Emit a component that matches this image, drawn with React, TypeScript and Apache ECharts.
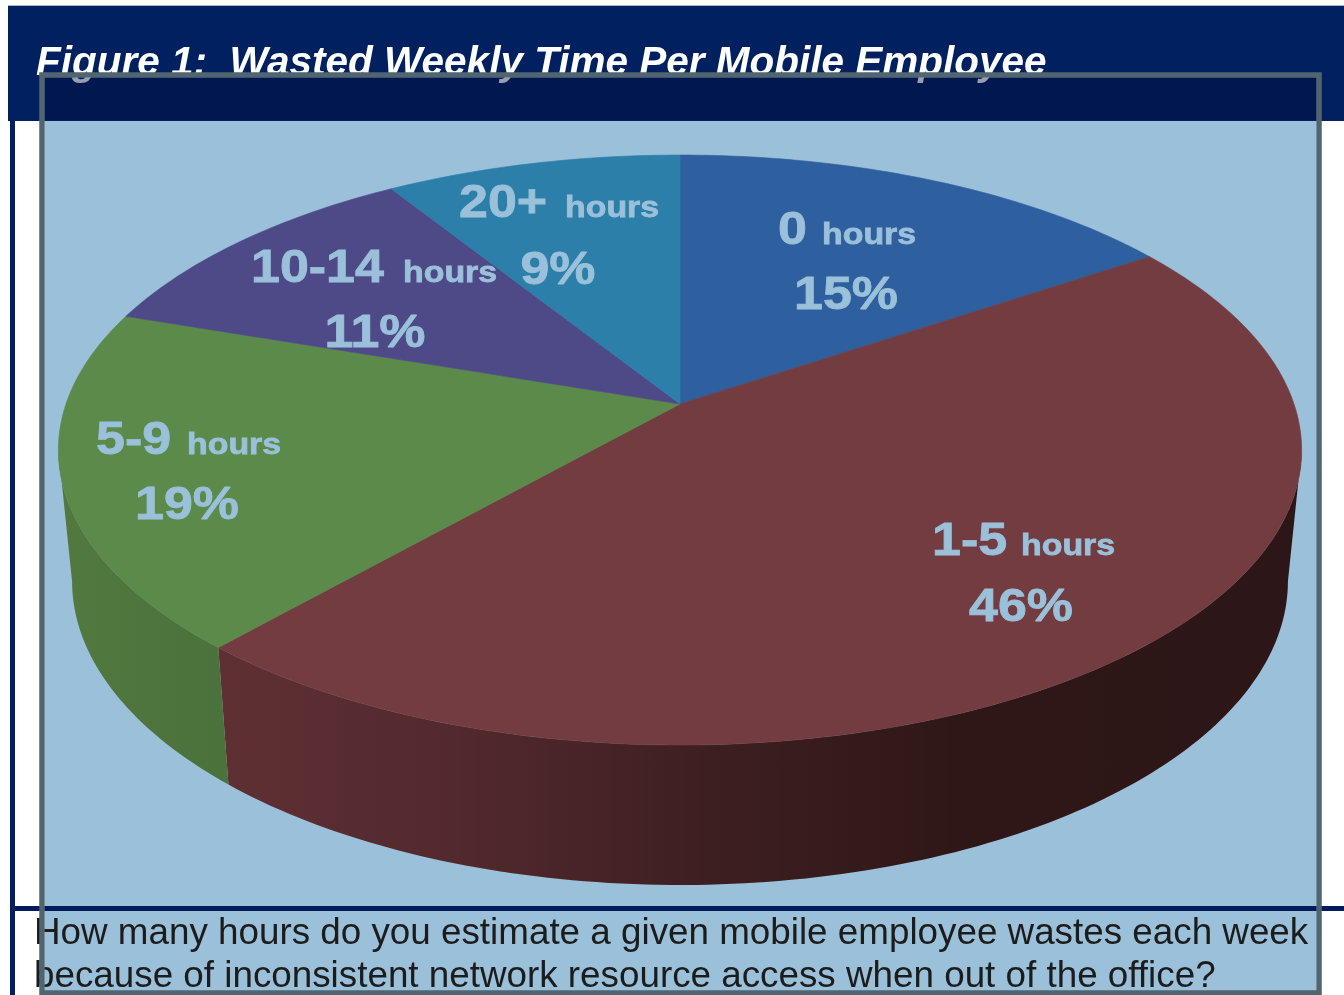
import React, { useEffect, useRef } from "react";
import * as echarts from "echarts";

const categories = ["0", "1-5", "5-9", "10-14", "20+"];
const unitLabel = "hours";
const shares = [15, 46, 19, 11, 9];
const titleText = "Figure 1:  Wasted Weekly Time Per Mobile Employee";
const questionLines = [
  "How many hours do you estimate a given mobile employee wastes each week",
  "because of inconsistent network resource access when out of the office?",
];

const topColors = ["#2e5f9f", "#733c40", "#5b8a4a", "#4d4a87", "#2c7fa8"];
const TEXT_BLUE = "#9bc0da";
const NAVY = "#002060";

// [range left, hours left, range/hours baseline, percent centre, percent baseline]
const labelLayout = [
  [778, 822, 245, 846, 310],
  [932, 1021, 556, 1021, 622],
  [96, 187, 455, 187, 520],
  [251, 403, 283, 375, 348],
  [459, 565, 218, 558, 285],
];

// Perspective of the disc: a circle pushed through a projective map.
const CX = 680, APEX_Y = 404, RX = 614, A = 224.8, C = -0.156;
const project = (deg: number) => {
  const t = (deg * Math.PI) / 180;
  const u = Math.sin(t), v = -Math.cos(t), d = 1 + C * v;
  return [CX + (RX * u) / d, (APEX_Y + A * v) / d];
};
const lower = (p: number[]) => [CX + (p[0] - CX) * 0.978, p[1] * 1.03 + 117.6];
// small view-dependent angular skew of the rendered 3D disc
const warp = (deg: number) => {
  const t = (deg * Math.PI) / 180;
  return deg + 2.9 * Math.sin(t / 2) + 1.1 * Math.sin(t);
};
const total = shares.reduce((s, v) => s + v, 0);
const bounds = (i: number) => {
  const before = shares.slice(0, i).reduce((s, v) => s + v, 0);
  return [warp((before / total) * 360), warp(((before + shares[i]) / total) * 360)];
};
const arc = (a0: number, a1: number) => {
  const pts: number[][] = [];
  const n = Math.max(2, Math.ceil(a1 - a0));
  for (let k = 0; k <= n; k++) pts.push(project(a0 + ((a1 - a0) * k) / n));
  return pts;
};

// Angles at which the disc's rim turns away from the viewer.
const RIM_FROM = 99, RIM_TO = 261;

const wallFill = (i: number) => {
  if (i === 1)
    return new echarts.graphic.LinearGradient(220, 0, 1300, 0, [
      { offset: 0, color: "#5e3034" },
      { offset: 0.22, color: "#52292d" },
      { offset: 0.45, color: "#3e1f21" },
      { offset: 0.68, color: "#2f1718" },
      { offset: 1, color: "#2d1617" },
    ], true);
  return new echarts.graphic.LinearGradient(60, 0, 230, 0, [
    { offset: 0, color: "#52793f" },
    { offset: 1, color: "#4b713c" },
  ], true);
};

const renderWall = (params: any) => {
  const i = params.dataIndex;
  const [b0, b1] = bounds(i);
  const a0 = Math.max(b0, RIM_FROM), a1 = Math.min(b1, RIM_TO);
  if (a1 <= a0) return { type: "group", children: [] };
  const top = arc(a0, a1);
  return {
    type: "polygon",
    shape: { points: [...top, ...top.slice().reverse().map(lower)] },
    style: { fill: wallFill(i) },
  };
};

const renderTop = (params: any) => {
  const i = params.dataIndex;
  const [a0, a1] = bounds(i);
  return {
    type: "polygon",
    shape: { points: [[CX, APEX_Y], ...arc(a0, a1)] },
    style: { fill: topColors[i], stroke: topColors[i], lineWidth: 0.6 },
  };
};

const labelFont = (size: number) => `bold ${size}px "Liberation Sans", Arial, sans-serif`;
const renderLabel = (params: any) => {
  const i = params.dataIndex;
  const [x1, x2, base, pctX, pctBase] = labelLayout[i];
  const txt = (x: number, y: number, text: string, size: number, align: string) => ({
    type: "text",
    x,
    y: y + size * 0.13,
    scaleX: 1.13,
    style: {
      x: 0,
      y: 0,
      text,
      fill: TEXT_BLUE,
      stroke: TEXT_BLUE,
      lineWidth: 0.8,
      font: labelFont(size),
      textAlign: align,
      textVerticalAlign: "bottom",
    },
  });
  return {
    type: "group",
    children: [
      txt(x1, base, categories[i], 46, "left"),
      txt(x2, base, unitLabel, 30, "left"),
      txt(pctX, pctBase, `${shares[i]}%`, 46, "center"),
    ],
  };
};

const seriesData = shares.map((v) => [v]);

export default function App() {
  const ref = useRef<HTMLDivElement>(null);
  useEffect(() => {
    document.body.style.margin = "0";
    document.body.style.background = "#fff";
    const chart = echarts.init(ref.current!, undefined, { renderer: "svg" });
    const rect = (x: number, y: number, w: number, h: number, fill: string, z: number, opacity = 1) => ({
      type: "rect",
      z,
      shape: { x, y, width: w, height: h },
      style: { fill, opacity },
    });
    chart.setOption({
      animation: false,
      backgroundColor: "#ffffff",
      graphic: [
        rect(8, 5, 1336, 1, "#a9b3c9", -10),
        rect(8, 6, 1336, 115, NAVY, -10),
        {
          type: "text",
          z: -9,
          x: 36,
          y: 76 + 40.5 * 0.13,
          style: {
            text: titleText,
            fill: "#ffffff",
            font: 'italic bold 40.5px "Liberation Sans", Arial, sans-serif',
            textVerticalAlign: "bottom",
          },
        },
        rect(45, 78, 1271, 42, "#000c37", -8, 0.4),
        rect(10, 120, 5, 875, "#002060", -10),
        rect(45, 121, 1271, 871, TEXT_BLUE, -7),
        rect(15, 906, 1329, 5, "#001a5c", -6),
        ...questionLines.map((line, i) => ({
          type: "text",
          z: 5,
          x: 34,
          y: 945 + i * 43 + 36.8 * 0.13,
          style: {
            text: line,
            fill: "#1c1c1c",
            font: '36.8px "Liberation Sans", Arial, sans-serif',
            textVerticalAlign: "bottom",
          },
        })),
        {
          type: "rect",
          z: 20,
          shape: { x: 42, y: 75, width: 1277, height: 918 },
          style: { fill: "none", stroke: "#516570", lineWidth: 5.5 },
        },
      ],
      series: [
        { type: "custom", coordinateSystem: "none", z: 2, silent: true, data: seriesData, renderItem: renderWall },
        { type: "custom", coordinateSystem: "none", z: 3, silent: true, data: seriesData, renderItem: renderTop },
        { type: "custom", coordinateSystem: "none", z: 4, silent: true, data: seriesData, renderItem: renderLabel },
      ],
    });
    return () => chart.dispose();
  }, []);
  return (
    <div
      ref={ref}
      style={{ position: "fixed", left: 0, top: 0, width: 1344, height: 995, filter: "blur(0.6px)" }}
    />
  );
}
